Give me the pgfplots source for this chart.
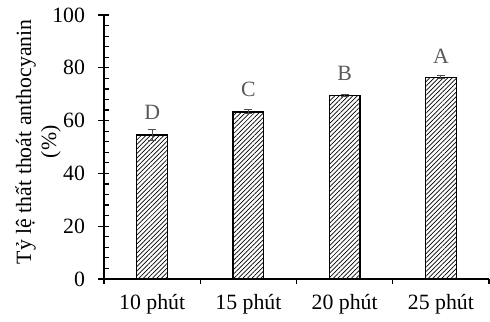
\documentclass[border=0pt]{standalone}
\usepackage{pgfplots}
\pgfplotsset{compat=1.18}
\usepackage{fontspec}
\setmainfont{Liberation Serif}
\usetikzlibrary{patterns.meta}
\begin{document}
\fontsize{21.8bp}{25bp}\selectfont
\begin{tikzpicture}
\useasboundingbox (-104bp,-43bp) rectangle (386bp,279bp);
\begin{axis}[
  scale only axis,
  at={(0,0)}, anchor=south west,
  width=385bp, height=264bp,
  xmin=-0.5, xmax=3.5,
  ymin=0, ymax=100,
  axis lines*=left,
  axis line style={line width=1.4bp},
  every tick/.style={black, line width=1.2bp},
  xtick={0,1,2,3},
  xticklabels={10 phút,15 phút,20 phút,25 phút},
  major x tick style={draw=none},
  minor xtick={-0.5,0.5,1.5,2.5,3.5},
  minor x tick style={yshift=-2.6bp},
  x tick label style={yshift=-2bp},
  ytick={0,20,40,60,80,100},
  minor y tick num=4,
  minor y tick style={xshift=2.6bp},
  y tick label style={xshift=-6bp},
  tick align=center,
  major tick length=11bp,
  minor tick length=5.2bp,
  /pgf/number format/assume math mode=true,
  ylabel={Tỷ lệ thất thoát anthocyanin\\(\%)},
  ylabel style={align=center, at={(axis description cs:-0.171,0.52)}, anchor=center},
  clip=false,
]
\addplot[
  ybar, bar width=0.32, draw=black, line width=1.3bp,
  pattern={Lines[angle=45,distance=3.2bp,line width=0.7bp]},
  error bars/.cd, y dir=both, y explicit,
  error bar style={black!70, line width=1bp},
  error mark options={black!70, rotate=90, mark size=4bp, line width=1bp},
] table[x=x, y=y, y error=e] {
x y e
0 54.5 2.2
1 63.3 0.8
2 69.4 0.3
3 76.4 0.5
};
\addplot[
  only marks, mark=none,
  nodes near coords, point meta=explicit symbolic,
  every node near coord/.style={anchor=south, inner sep=0pt, text=black!65},
] table[x=x, y=y, meta=l] {
x y l
0 60.5 D
1 68.8 C
2 75.2 B
3 81.6 A
};
\end{axis}
\end{tikzpicture}
\end{document}
